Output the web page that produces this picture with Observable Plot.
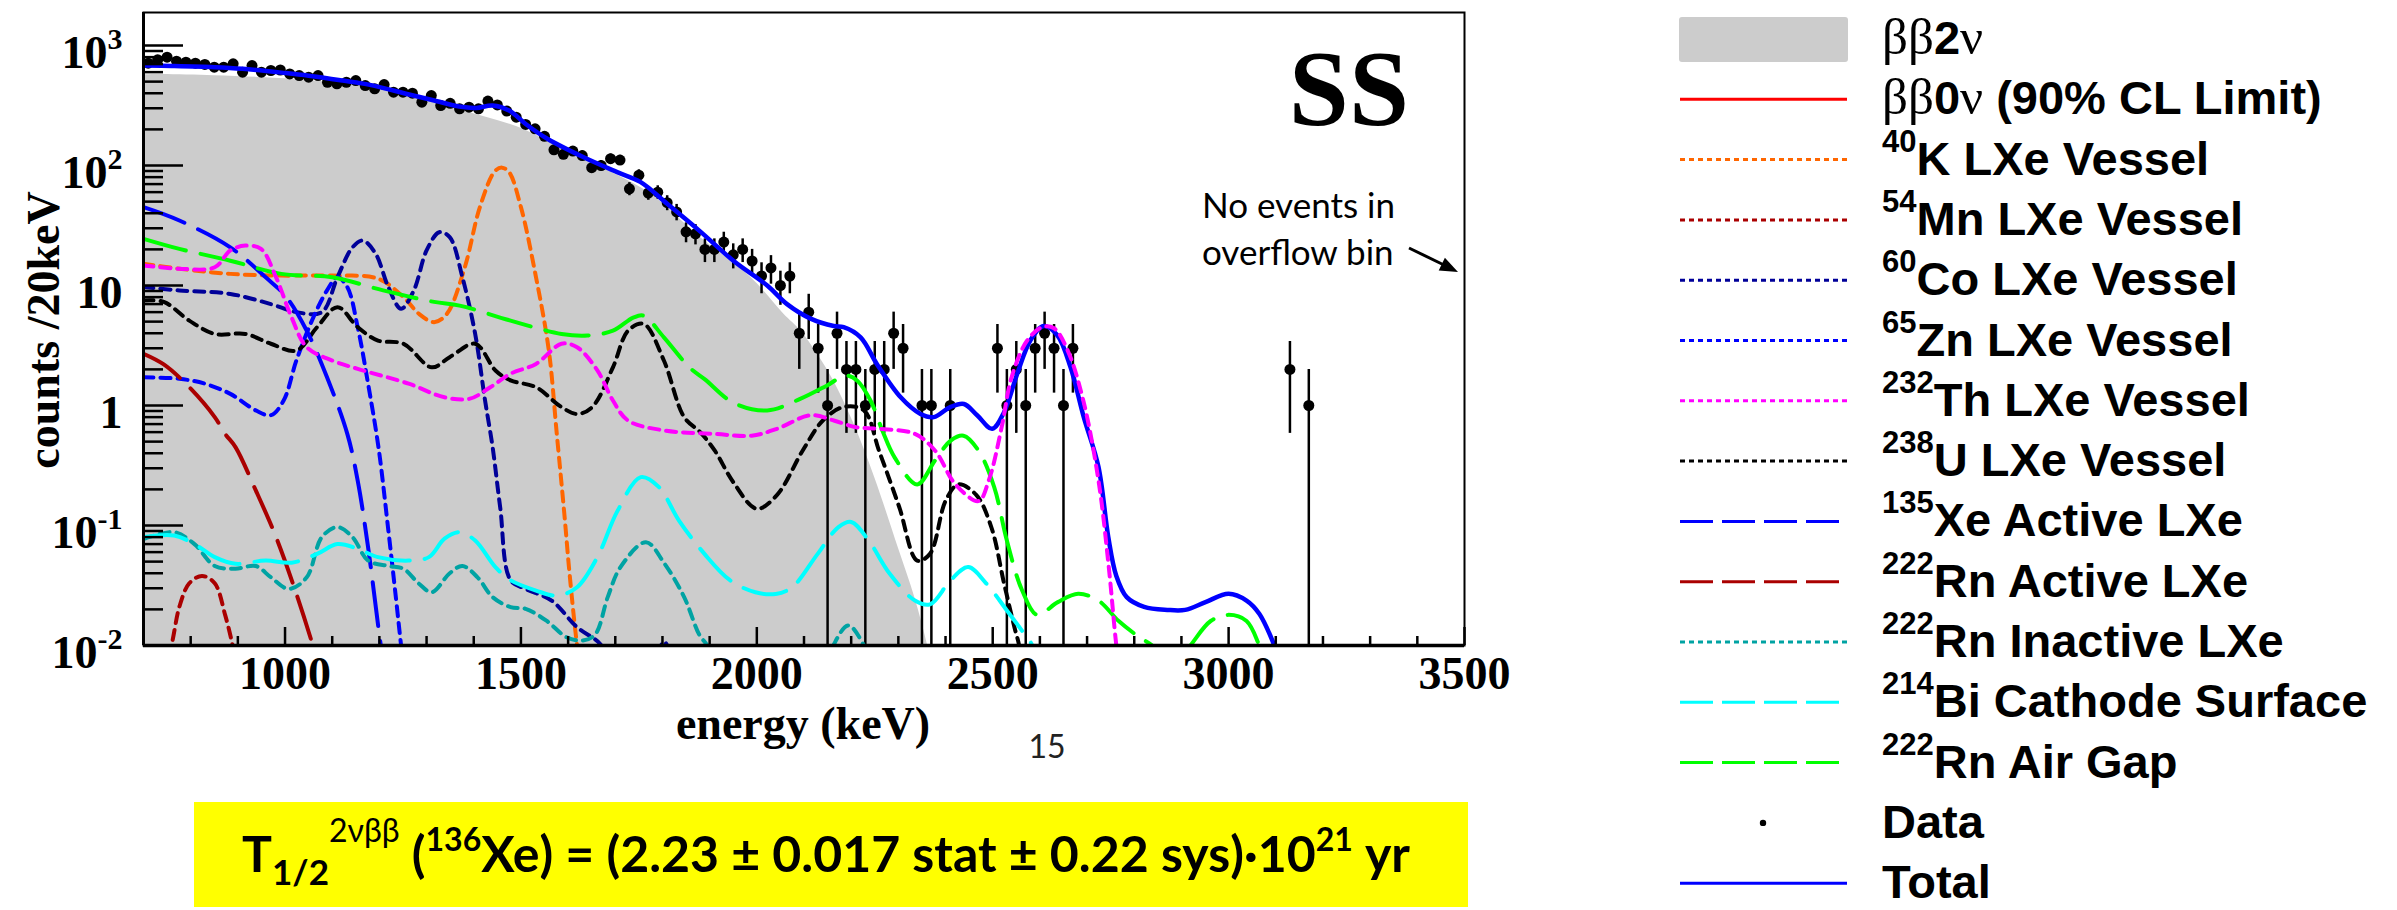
<!DOCTYPE html>
<html>
<head>
<meta charset="utf-8">
<script src="https://cdn.jsdelivr.net/npm/d3@7"></script>
<script src="https://cdn.jsdelivr.net/npm/@observablehq/plot@0.6"></script>
<style>
  html, body { margin:0; padding:0; background:#fff; }
  body { width:2397px; height:910px; overflow:hidden; position:relative; }
  #chart { position:absolute; left:0; top:0; }
  #overlay { position:absolute; left:0; top:0; }
</style>
</head>
<body>
<div id="chart"></div>
<svg id="overlay" xmlns="http://www.w3.org/2000/svg" width="2397" height="910"></svg>
<script>
// ---------------- DATA ----------------
const xTicksMajor = [1000, 1500, 2000, 2500, 3000, 3500];
const xTickLabels = ["1000", "1500", "2000", "2500", "3000", "3500"];
const yTicksMajor = [0.01, 0.1, 1, 10, 100, 1000];
const yTickLabels = ["10^-2", "10^-1", "1", "10", "10^2", "10^3"];
const xDomain = [700, 3500];
const yDomain = [0.01, 1884];

const xLabel = "energy (keV)";
const yLabel = "counts /20keV";

// measured data (bin centres, counts per 20 keV)
const dataEnergy = [710,730,750,770,790,810,830,850,870,890,910,930,950,970,990,1010,1030,1050,1070,1090,
  1110,1130,1150,1170,1190,1210,1230,1250,1270,1290,1310,1330,1350,1370,1390,1410,1430,1450,1470,1490,
  1510,1530,1550,1570,1590,1610,1630,1650,1670,1690,1710,1730,1750,1770,1790,1810,1830,1850,1870,1890,
  1910,1930,1950,1970,1990,2010,2030,2050,2070,2090,2110,2130,2150,2170,2190,2210,2230,2250,2270,2290,
  2310,2350,2370,2410,2510,2530,2550,2570,2590,2610,2630,2650,2670,3130,3170];
const dataCounts = [713,760,800,740,726,713,695,660,660,703,600,681,600,619,625,580,562,545,562,494,
  479,494,510,464,436,473,408,408,401,337,383,316,330,297,306,297,344,320,284,253,
  220,202,175,135,124,132,121,96,100,114,111,64,83,59,60,49,41,28,27,20,
  20,23,18,20,16,12,14,10,12,4,6,3,1,4,2,2,1,2,2,4,
  3,1,1,1,3,1,2,1,3,4,3,1,3,2,1];

// model curves: [energy keV, counts/20keV]
const twoNu = [[700,570],[740,573],[850,560],[950,540],[1050,510],[1122,479],[1200,432],[1300,348],[1369,290],
  [1430,250],[1492,210],[1563,156],[1669,97],[1775,58],[1881,25],[1987,11.7],[2057,5.8],[2093,4.2],[2128,2.7],
  [2163,1.6],[2206,0.7],[2250,0.25],[2300,0.065],[2335,0.025],[2362,0.01],[2390,0.003]];
const total = [[700,681],[760,675],[850,660],[910,640],[1000,590],[1050,560],[1122,510],[1180,470],[1263,391],
  [1320,345],[1369,310],[1405,302],[1440,316],[1475,287],[1510,222],[1556,167],[1633,117],[1704,88],[1753,73],
  [1810,48],[1881,28],[1951,16],[2022,10],[2064,7.0],[2114,5.3],[2163,4.6],[2184,4.5],[2220,3.7],[2255,2.2],
  [2305,1.17],[2347,0.85],[2375,0.8],[2410,0.97],[2439,1.03],[2467,0.83],[2499,0.64],[2524,0.88],[2552,1.84],
  [2580,3.5],[2608,4.6],[2637,3.85],[2665,2.08],[2693,0.8],[2724,0.31],[2745,0.08],[2762,0.038],[2784,0.0253],
  [2821,0.021],[2870,0.0198],[2908,0.0198],[2951,0.023],[3000,0.027],[3038,0.0237],[3065,0.0184],[3097,0.01],[3110,0.007]];
const k40 = [[700,15.2],[776,13.8],[884,12.5],[992,12.1],[1100,12.1],[1197,11.4],[1251,8.0],[1284,5.8],[1316,4.95],
  [1343,5.8],[1381,14.2],[1413,45],[1445,90],[1460,96],[1475,88],[1500,45],[1532,11.7],[1559,2.9],[1576,0.58],
  [1592,0.125],[1603,0.04],[1619,0.01],[1630,0.005]];
const mn54 = [[740,0.006],[759,0.01],[776,0.021],[797,0.033],[824,0.038],[851,0.033],[873,0.018],[889,0.01],[900,0.006]];
const co60 = [[700,9.7],[776,9.1],[884,8.5],[970,7.0],[1024,6.0],[1078,6.0],[1111,11.7],[1143,20.8],[1165,23.7],
  [1192,18.4],[1219,9.7],[1246,6.4],[1273,9.1],[1300,19.6],[1327,27.8],[1349,25.3],[1376,11.7],[1403,3.95],
  [1424,1.1],[1440,0.45],[1456,0.142],[1478,0.035],[1510,0.0296],[1565,0.0237],[1619,0.0142],[1668,0.0103],
  [1690,0.007],[1780,0.007],[1803,0.0108],[1825,0.007]];
const zn65 = [[700,1.72],[776,1.67],[830,1.52],[884,1.25],[938,0.91],[970,0.83],[997,1.1],[1024,2.37],[1057,5.1],
  [1089,9.1],[1111,11.7],[1132,9.7],[1154,4.5],[1176,1.52],[1198,0.45],[1219,0.091],[1235,0.025],[1246,0.01],[1255,0.005]];
const th232 = [[700,14.7],[776,13.8],[851,14.2],[884,19.6],[916,21.5],[949,20.2],[981,11.7],[1014,5.4],[1046,3.06],
  [1100,2.37],[1154,2.02],[1262,1.52],[1338,1.17],[1392,1.14],[1435,1.42],[1478,1.84],[1532,2.22],[1586,3.27],
  [1619,3.06],[1662,1.96],[1695,1.1],[1727,0.75],[1803,0.62],[1911,0.58],[1989,0.56],[2043,0.64],[2114,0.83],
  [2163,0.75],[2210,0.66],[2259,0.64],[2335,0.58],[2378,0.42],[2421,0.22],[2470,0.16],[2492,0.24],[2519,0.66],
  [2540,1.72],[2573,3.48],[2605,4.5],[2630,4.4],[2659,2.87],[2692,1.1],[2724,0.24],[2746,0.045],[2762,0.01],[2775,0.004]];
const u238 = [[700,7.5],[743,7.3],[797,5.1],[851,3.95],[916,3.95],[970,3.27],[1024,2.87],[1068,4.5],[1111,6.6],
  [1154,4.5],[1197,3.48],[1251,3.27],[1311,2.08],[1349,2.53],[1403,3.27],[1446,1.96],[1478,1.62],[1532,1.42],
  [1586,0.97],[1619,0.85],[1651,0.97],[1695,2.08],[1727,4.2],[1760,4.8],[1803,2.37],[1846,0.8],[1880,0.6],
  [1911,0.42],[1950,0.23],[2000,0.138],[2043,0.18],[2097,0.42],[2140,0.75],[2183,0.97],[2227,0.91],[2259,0.42],
  [2302,0.142],[2340,0.051],[2367,0.058],[2400,0.16],[2427,0.22],[2465,0.18],[2497,0.097],[2524,0.033],
  [2546,0.0142],[2556,0.01],[2570,0.004]];
const xe135 = [[700,45],[776,34.8],[884,20.8],[959,11.7],[1003,8.0],[1046,4.2],[1089,1.72],[1132,0.58],[1154,0.237],
  [1176,0.066],[1203,0.01],[1215,0.005]];
const rnActive = [[700,2.7],[743,2.2],[797,1.42],[851,0.8],[873,0.58],[895,0.45],[938,0.196],[981,0.08],[1024,0.027],
  [1059,0.01],[1075,0.006]];
const rnInactive = [[700,0.077],[765,0.088],[808,0.07],[851,0.046],[895,0.0436],[938,0.046],[970,0.037],[1008,0.0296],
  [1046,0.037],[1078,0.08],[1111,0.097],[1143,0.08],[1176,0.051],[1219,0.046],[1251,0.0436],[1284,0.0327],
  [1311,0.0278],[1349,0.04],[1376,0.046],[1408,0.037],[1440,0.0253],[1478,0.0209],[1510,0.0202],[1554,0.0161],
  [1597,0.0117],[1630,0.011],[1657,0.0123],[1684,0.0253],[1711,0.045],[1765,0.0726],[1803,0.049],[1846,0.0253],
  [1878,0.0123],[1895,0.01],[1920,0.006],[2140,0.006],[2162,0.01],[2194,0.0147],[2227,0.01],[2250,0.006]];
const bi214 = [[700,0.08],[765,0.0826],[808,0.07],[851,0.0545],[895,0.048],[959,0.051],[1014,0.049],[1068,0.058],
  [1111,0.07],[1154,0.064],[1197,0.0545],[1262,0.051],[1305,0.0545],[1338,0.0776],[1370,0.088],[1403,0.075],
  [1446,0.045],[1478,0.035],[1532,0.0287],[1576,0.026],[1619,0.0306],[1662,0.0545],[1705,0.133],[1754,0.253],
  [1792,0.21],[1835,0.11],[1889,0.058],[1943,0.035],[1997,0.0278],[2040,0.0269],[2075,0.0306],[2129,0.058],
  [2173,0.097],[2200,0.107],[2237,0.075],[2281,0.04],[2335,0.0237],[2367,0.022],[2411,0.035],[2448,0.045],
  [2486,0.033],[2530,0.0196],[2562,0.0133],[2584,0.01],[2600,0.006]];
const airGap = [[700,24.5],[776,20.2],[884,16.1],[992,12.5],[1100,11.7],[1208,9.1],[1316,7.3],[1370,6.8],[1478,5.1],
  [1586,3.95],[1641,3.83],[1695,4.2],[1738,5.4],[1760,5.6],[1803,3.7],[1857,2.08],[1890,1.65],[1951,1.05],
  [2022,0.91],[2093,1.14],[2149,1.47],[2188,1.78],[2213,1.61],[2241,1.1],[2266,0.62],[2292,0.37],[2340,0.22],
  [2378,0.35],[2411,0.51],[2438,0.56],[2470,0.42],[2503,0.21],[2530,0.075],[2562,0.029],[2594,0.018],[2638,0.023],
  [2681,0.027],[2724,0.0237],[2767,0.016],[2811,0.0117],[2838,0.01],[2880,0.0065],[2919,0.01],[2962,0.016],
  [3000,0.018],[3038,0.016],[3065,0.01],[3085,0.006]];

// legend entries
const legendSup = ["", "", "40", "54", "60", "65", "232", "238", "135", "222", "222", "214", "222", "", ""];
const legendText = ["ββ2ν", "ββ0ν (90% CL Limit)", "K LXe Vessel", "Mn LXe Vessel", "Co LXe Vessel", "Zn LXe Vessel",
  "Th LXe Vessel", "U LXe Vessel", "Xe Active LXe", "Rn Active LXe", "Rn Inactive LXe", "Bi Cathode Surface",
  "Rn Air Gap", "Data", "Total"];
const resultText = "T_{1/2}^{2νββ} (^{136}Xe) = (2.23 ± 0.017 stat ± 0.22 sys)·10^{21} yr";

// ---------------- STYLES ----------------
const DOT = "10,7", DASH = "44,15";
const GRAY = "#cccccc";
const series = [
  {pts: total, color: "#0000ff", dash: null, w: 4.5},
  {pts: k40, color: "#ff6600", dash: DOT, w: 4},
  {pts: mn54, color: "#aa0000", dash: DOT, w: 4},
  {pts: co60, color: "#000099", dash: DOT, w: 4},
  {pts: zn65, color: "#0000ff", dash: DOT, w: 4},
  {pts: u238, color: "#000000", dash: DOT, w: 4},
  {pts: xe135, color: "#0000ff", dash: DASH, w: 4},
  {pts: rnActive, color: "#aa0000", dash: DASH, w: 4},
  {pts: rnInactive, color: "#00a3a3", dash: DOT, w: 4},
  {pts: bi214, color: "#00ffff", dash: DASH, w: 4},
  {pts: airGap, color: "#00ff00", dash: DASH, w: 4},
  {pts: th232, color: "#ff00ff", dash: DOT, w: 4}
];
// legend styles (same order as legendText)
const legendStyle = [
  {kind: "box", color: GRAY},
  {kind: "line", color: "#ff0000", dash: null},
  {kind: "line", color: "#ff6600", dash: "5,4"},
  {kind: "line", color: "#aa0000", dash: "5,4"},
  {kind: "line", color: "#000099", dash: "5,4"},
  {kind: "line", color: "#0000ff", dash: "5,4"},
  {kind: "line", color: "#ff00ff", dash: "5,4"},
  {kind: "line", color: "#000000", dash: "5,4"},
  {kind: "line", color: "#0000ff", dash: "33,9"},
  {kind: "line", color: "#aa0000", dash: "33,9"},
  {kind: "line", color: "#00a3a3", dash: "5,4"},
  {kind: "line", color: "#00ffff", dash: "33,9"},
  {kind: "line", color: "#00ff00", dash: "33,9"},
  {kind: "dot", color: "#000000"},
  {kind: "line", color: "#0000ff", dash: null}
];

// ---------------- CHART ----------------
const rows = dataEnergy.map((e, i) => {
  const n = dataCounts[i], s = Math.sqrt(n);
  return {e, n, lo: Math.max(n - s, 1e-4), hi: n + s};
});
const xMinor = d3.range(800, 3500, 100).filter(v => v % 500 !== 0);
const yMinor = [];
for (let d = -2; d <= 3; d++) for (let m = 2; m <= 9; m++) { const v = m * Math.pow(10, d); if (v < yDomain[1]) yMinor.push(+v.toPrecision(3)); }

const X = d => d[0], Y = d => d[1];
const marks = [
  Plot.areaY(twoNu, {x: X, y1: () => 1e-3, y2: Y, fill: GRAY, curve: "catmull-rom", clip: true}),
  Plot.ruleX(rows, {x: "e", y1: "lo", y2: "hi", stroke: "black", strokeWidth: 2.5, clip: true}),
  Plot.dot(rows, {x: "e", y: "n", r: 5.5, fill: "black", stroke: "none", clip: true}),
  ...series.map(s => Plot.line(s.pts, {x: X, y: Y, stroke: s.color, strokeWidth: s.w,
      strokeDasharray: s.dash || undefined, curve: "catmull-rom", clip: true})),
  Plot.frame({stroke: "black", strokeWidth: 2}),
  Plot.ruleX([xDomain[0]], {stroke: "black", strokeWidth: 3}),
  Plot.ruleY([yDomain[0]], {stroke: "black", strokeWidth: 3.5}),
  Plot.axisY(yMinor, {anchor: "left", tickSize: -20, tickFormat: () => "", strokeWidth: 2.5, label: null}),
  Plot.axisY(yTicksMajor, {anchor: "left", tickSize: -40, tickFormat: () => "", strokeWidth: 2.5, label: null}),
  Plot.axisY(yTicksMajor, {anchor: "left", tickSize: 0, tickPadding: 21, dy: 8, fontSize: 46,
      tickFormat: d => yTickLabels[yTicksMajor.indexOf(d)], label: null}),
  Plot.axisX(xMinor, {anchor: "bottom", tickSize: -9, tickFormat: () => "", strokeWidth: 2.5, label: null}),
  Plot.axisX(xTicksMajor, {anchor: "bottom", tickSize: -18, tickFormat: () => "", strokeWidth: 2.5, label: null}),
  Plot.axisX(xTicksMajor, {anchor: "bottom", tickSize: 0, tickPadding: 11, fontSize: 46,
      tickFormat: d => xTickLabels[xTicksMajor.indexOf(d)], label: null})
];

const plot = Plot.plot({
  width: 1560, height: 700,
  marginLeft: 143, marginRight: 96, marginTop: 12, marginBottom: 55,
  x: {type: "linear", domain: xDomain, label: null},
  y: {type: "log", domain: yDomain, label: null},
  style: {fontFamily: "'Liberation Serif', 'Times New Roman', serif", fontWeight: "bold", background: "transparent", color: "black", overflow: "visible"},
  marks
});
document.getElementById("chart").appendChild(plot);

// superscripts on y tick labels
const NS = "http://www.w3.org/2000/svg";
plot.querySelectorAll('g[aria-label="y-axis tick label"] text').forEach(t => {
  const parts = t.textContent.split("^");
  if (parts.length === 2) {
    t.textContent = parts[0];
    const ts = document.createElementNS(NS, "tspan");
    ts.setAttribute("dy", "-19");
    ts.setAttribute("font-size", "30");
    ts.textContent = parts[1];
    t.appendChild(ts);
  }
});

// ---------------- ANNOTATIONS, BOX, LEGEND ----------------
const overlay = document.getElementById("overlay");
const serif = "'Liberation Serif', 'Times New Roman', serif";
const sans = "'Liberation Sans', Arial, Helvetica, sans-serif";
const gill = "Lato, 'Open Sans', sans-serif";
let o = "";
o += `<text transform="translate(59,330) rotate(-90)" text-anchor="middle" font-family="${serif}" font-weight="bold" font-size="46">${yLabel}</text>`;
o += `<text x="803" y="739" text-anchor="middle" font-family="${serif}" font-weight="bold" font-size="46">${xLabel}</text>`;
o += `<text x="1409" y="125" text-anchor="end" font-family="${serif}" font-weight="bold" font-size="108">SS</text>`;
o += `<text x="1202" y="218" font-family="${gill}" font-size="35">No events in</text>`;
o += `<text x="1202" y="265" font-family="${gill}" font-size="35">overflow bin</text>`;
o += `<line x1="1409" y1="248" x2="1444" y2="265" stroke="black" stroke-width="3"/>`;
o += `<path d="M1458,272 L1438.7,270.4 L1444.9,257.8 Z" fill="black"/>`;
o += `<text x="1047" y="758" text-anchor="middle" font-family="${gill}" font-size="32" fill="#222">15</text>`;
o += `<rect x="194" y="802" width="1274" height="105" fill="#ffff00"/>`;
o += `<g id="eqg"></g>`;

// legend
const rowY = i => 39 + i * 60.3;
legendText.forEach((txt, i) => {
  const st = legendStyle[i], cy = rowY(i);
  if (st.kind === "box") o += `<rect x="1679" y="${cy - 22}" width="169" height="45" rx="3" fill="${st.color}"/>`;
  else if (st.kind === "dot") o += `<circle cx="1763" cy="${cy}" r="3.2" fill="${st.color}"/>`;
  else o += `<line x1="1680" x2="1847" y1="${cy}" y2="${cy}" stroke="${st.color}" stroke-width="3" ${st.dash ? `stroke-dasharray="${st.dash}"` : ""}/>`;
  const by = cy + 15;
  let label;
  if (i === 0) {
    label = `<tspan font-family="${serif}" font-weight="normal" font-size="51">ββ</tspan>2<tspan font-family="${serif}" font-weight="normal" font-size="51">ν</tspan>`;
  } else if (i === 1) {
    label = `<tspan font-family="${serif}" font-weight="normal" font-size="51">ββ</tspan>0<tspan font-family="${serif}" font-weight="normal" font-size="51">ν</tspan> (90% CL Limit)`;
  } else if (legendSup[i]) {
    label = `<tspan font-size="31" dy="-23">${legendSup[i]}</tspan><tspan dy="23">${txt}</tspan>`;
  } else label = txt;
  o += `<text x="1882" y="${by}" font-family="${sans}" font-weight="bold" font-size="47">${label}</text>`;
});
overlay.innerHTML = o;

// result box text, fitted to the box text width
function eqMarkup(fs) {
  const sub = fs * 0.7, sup = fs * 0.64;
  const m = resultText.match(/^T_\{(.*?)\}\^\{(.*?)\} \(\^\{(.*?)\}(.*?)10\^\{(.*?)\}(.*)$/);
  return `<text id="eq" x="826" y="872" text-anchor="middle" font-family="${gill}" font-weight="bold" font-size="${fs}">T` +
    `<tspan font-size="${sub}" dy="${fs * 0.25}">${m[1]}</tspan>` +
    `<tspan font-size="${sup}" font-weight="normal" dy="${-fs * 0.86}">${m[2]}</tspan>` +
    `<tspan dy="${fs * 0.61}"> (</tspan>` +
    `<tspan font-size="${sup}" dy="${-fs * 0.43}">${m[3]}</tspan>` +
    `<tspan dy="${fs * 0.43}">${m[4]}10</tspan>` +
    `<tspan font-size="${sup}" dy="${-fs * 0.43}">${m[5]}</tspan>` +
    `<tspan dy="${fs * 0.43}">${m[6]}</tspan></text>`;
}
const eqg = document.getElementById("eqg");
eqg.innerHTML = eqMarkup(44);
const w0 = document.getElementById("eq").getComputedTextLength();
if (w0 > 0) {
  const fs = Math.max(38, Math.min(50, 44 * 1214 / w0));
  eqg.innerHTML = eqMarkup(fs);
}
</script>
</body>
</html>
